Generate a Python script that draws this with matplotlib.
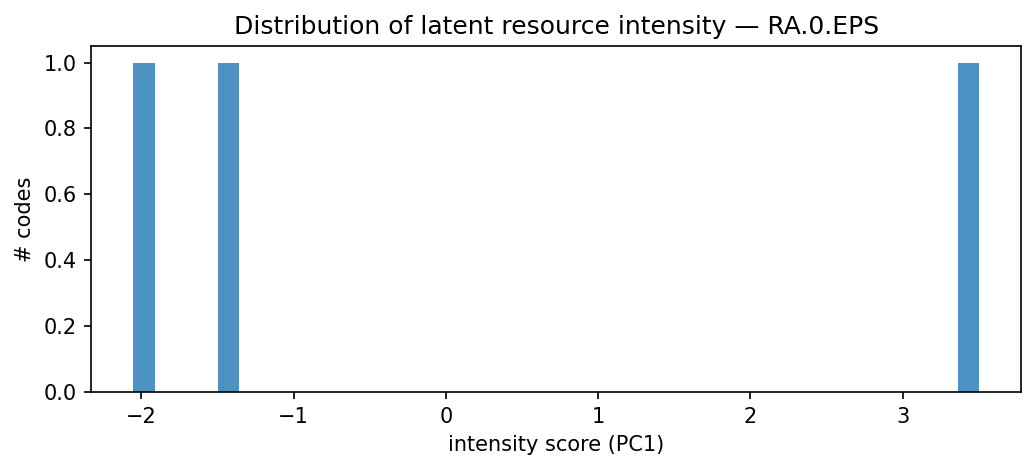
import matplotlib
matplotlib.use("Agg")
import matplotlib.pyplot as plt

# latent intensity scores (PC1) for each code
scores = [-2.052, -1.43, 3.499]
n_bins = 40

fig, ax = plt.subplots(figsize=(1036/150, 470/150), dpi=150)
ax.hist(scores, bins=n_bins, color="tab:blue", alpha=0.8)
ax.set_title("Distribution of latent resource intensity \u2014 RA.0.EPS")
ax.set_xlabel("intensity score (PC1)")
ax.set_ylabel("# codes")
fig.subplots_adjust(left=0.088, right=0.9855, top=0.902, bottom=0.166)
fig.savefig("out.png", dpi=150)
